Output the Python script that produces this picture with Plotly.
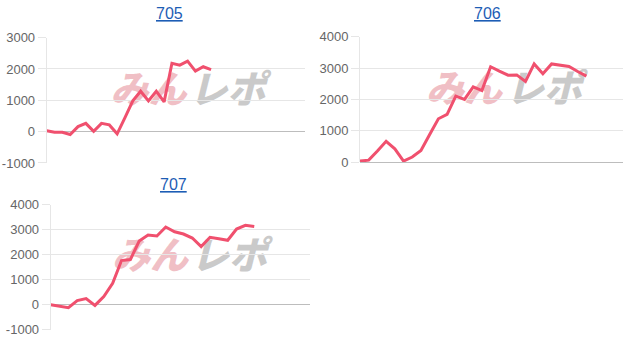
import plotly.graph_objects as go

# ---- data ----
titles = ["705", "706", "707"]
vals_705 = [30, -20, -20, -90, 160, 265, 10, 265, 215, -70, 450, 980, 1290, 980, 1290, 950,
            2180, 2120, 2250, 1930, 2070, 1980]
vals_706 = [30, 60, 350, 660, 420, 30, 160, 370, 880, 1380, 1520, 2100, 2000, 2400, 2280, 3040,
            2900, 2770, 2780, 2570, 3130, 2820, 3130, 3080, 3050, 2890, 2740]
vals_707 = [0, -60, -115, 165, 250, -25, 330, 860, 1770, 1810, 2550, 2790, 2750, 3110, 2920,
            2830, 2670, 2330, 2700, 2640, 2580, 3030, 3180, 3130]
series = [vals_705, vals_706, vals_707]
y_ticks = [[-1000, 0, 1000, 2000, 3000], [0, 1000, 2000, 3000, 4000], [-1000, 0, 1000, 2000, 3000, 4000]]
y_tick_text = [["-1000", "0", "1000", "2000", "3000"], ["0", "1000", "2000", "3000", "4000"],
               ["-1000", "0", "1000", "2000", "3000", "4000"]]
y_ranges = [[-1000, 3000], [0, 4000], [-1000, 4000]]
x_span = [33, 30.2, 29.3]
watermark = ["みん", "レポ"]

W, H = 634, 348
# plot boxes in pixels: (left, right, top, bottom)
boxes = [(46.7, 305, 32, 163), (360, 623, 31, 162), (50.7, 310, 206.7, 337.3)]
title_pos = [(169, 7), (487, 7), (173.3, 186)]
wm_pos = [((148.5, 227.5), 89), ((464, 544), 88.5), ((150, 229), 262.5)]

LINE = "rgb(240,80,110)"
GRID = "#e6e6e6"

fig = go.Figure()
layout = dict(width=W, height=H, autosize=False, margin=dict(l=0, r=0, t=0, b=0),
              paper_bgcolor="white", plot_bgcolor="white", showlegend=False)
annotations, shapes = [], []
for i, (vals, box) in enumerate(zip(series, boxes)):
    n = i + 1
    xs = "x" if n == 1 else f"x{n}"
    ys = "y" if n == 1 else f"y{n}"
    fig.add_trace(go.Scatter(x=list(range(len(vals))), y=vals, mode="lines",
                             line=dict(color=LINE, width=3), xaxis=xs, yaxis=ys,
                             hoverinfo="skip"))
    l, r, t, b = box
    kx = "xaxis" if n == 1 else f"xaxis{n}"
    ky = "yaxis" if n == 1 else f"yaxis{n}"
    layout[kx] = dict(domain=[l / W, r / W], range=[0, x_span[i]], showgrid=False,
                      showticklabels=False, zeroline=False, showline=False, anchor=ys,
                      fixedrange=True)
    layout[ky] = dict(domain=[1 - b / H, 1 - t / H], range=y_ranges[i], tickvals=y_ticks[i],
                      ticktext=y_tick_text[i], showgrid=True, gridcolor=GRID, gridwidth=1,
                      zeroline=True, zerolinecolor="#bdbdbd", zerolinewidth=1,
                      showline=True, linecolor=GRID, linewidth=1,
                      ticks="outside", ticklen=8, tickcolor=GRID, tickwidth=1,
                      tickfont=dict(family="Liberation Sans", size=13, color="#666666"),
                      anchor=xs, fixedrange=True)
    tx, ty = title_pos[i]
    annotations.append(dict(text=titles[i], x=tx / W, y=1 - ty / H, xref="paper", yref="paper",
                            xanchor="center", yanchor="middle", showarrow=False,
                            font=dict(family="Liberation Sans", size=16, color="#1d5db5",
                                      lineposition="under")))
    (cx1, cx2), cy = wm_pos[i]
    for txt, cx, col in [(watermark[0], cx1, "rgba(236,170,178,0.75)"),
                         (watermark[1], cx2, "rgba(185,185,185,0.75)")]:
        shapes.append(dict(type="rect", xref="paper", yref="paper",
                           x0=(cx - 45) / W, x1=(cx + 45) / W,
                           y0=1 - (cy + 18) / H, y1=1 - (cy - 18) / H,
                           line=dict(width=0), fillcolor="rgba(0,0,0,0)", layer="between",
                           label=dict(text=txt, textposition="middle center",
                                      font=dict(family="Noto Sans CJK JP", size=38, color=col,
                                                weight=900, style="italic"))))
layout["annotations"] = annotations
layout["shapes"] = shapes
fig.update_layout(**layout)
fig.write_html("out.html")
